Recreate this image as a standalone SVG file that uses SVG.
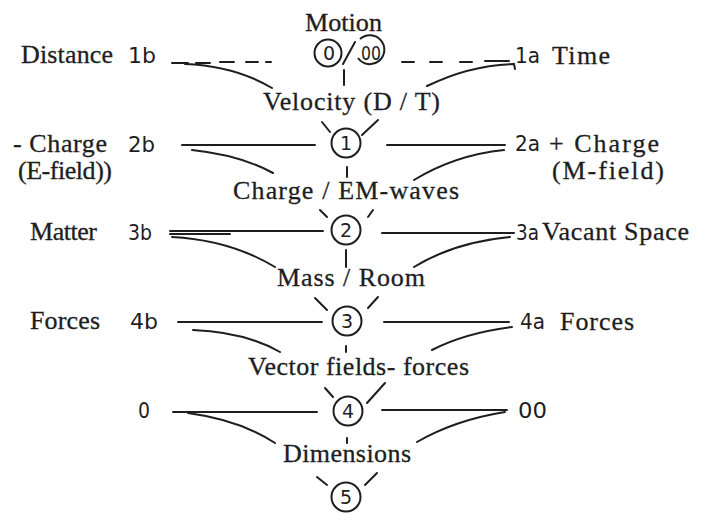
<svg xmlns="http://www.w3.org/2000/svg" width="704" height="513" viewBox="0 0 704 513">
<style>
.w{font-family:"Liberation Serif","Times New Roman",serif;font-size:26px;fill:#1e1e1e;stroke:#1e1e1e;stroke-width:0.3}
.s{font-family:"DejaVu Sans","Liberation Sans",sans-serif;font-size:21px;fill:#1e1e1e}
.n{font-family:"DejaVu Sans","Liberation Sans",sans-serif;font-size:19px;fill:#1e1e1e;text-anchor:middle}
.ln{stroke:#1e1e1e;stroke-width:2;fill:none;stroke-linecap:round}
.c{stroke:#1e1e1e;stroke-width:2;fill:none}
</style>
<rect width="704" height="513" fill="#ffffff"/>
<g id="connectors" class="ln">
  <path d="M172,63H188M196,63H210M220,62H234M246,62H258M266,62H271"/>
  <path d="M402,62H414M430,62H442M460,62H472M485,61H509"/>
  <path d="M185,64 Q235,66 272,88"/>
  <path d="M515,69 L514,64 Q470,65 427,86"/>
  <path d="M344,70V85"/>
  <path d="M182,145H315M387,145H505"/>
  <path d="M192,150 Q240,155 273,173"/>
  <path d="M504,150 Q455,155 414,180"/>
  <path d="M322,122L330,132M362,135L378,120"/>
  <path d="M347,167V177"/>
  <path d="M170,231H323M170,234H230M382,233H514"/>
  <path d="M172,237 Q230,240 275,267"/>
  <path d="M510,237 Q455,242 414,267"/>
  <path d="M320,210L327,217M368,217L373,210"/>
  <path d="M346,250V267"/>
  <path d="M178,322H322M384,322H509"/>
  <path d="M193,330 Q245,332 280,352"/>
  <path d="M512,327 Q465,333 432,350"/>
  <path d="M315,298L327,310M368,308L378,297"/>
  <path d="M346,346V352"/>
  <path d="M173,412H317M382,410H507"/>
  <path d="M188,413 Q240,420 275,443"/>
  <path d="M505,412 Q455,420 417,442"/>
  <path d="M325,388L333,397M367,403L385,383"/>
  <path d="M347,438V443"/>
  <path d="M317,477L327,485M365,485L377,473"/>
</g>
<g id="motion">
  <text class="w" x="305" y="31" textLength="77" lengthAdjust="spacingAndGlyphs">Motion</text>
  <circle class="c" cx="328" cy="53" r="13.5"/>
  <text class="n" x="329" y="60">0</text>
  <path class="ln" d="M343,64L355,42"/>
  <path class="c" d="M358,58 A14.5,14.5 0 1 0 360,39"/>
  <text class="n" x="371" y="60" textLength="20" lengthAdjust="spacingAndGlyphs">00</text>
</g>
<g id="n1b"><text class="w" x="21" y="63" textLength="92">Distance</text><text class="s" x="128" y="63" textLength="28" lengthAdjust="spacingAndGlyphs">1b</text></g>
<g id="n1a"><text class="s" x="515" y="63" textLength="25" lengthAdjust="spacingAndGlyphs">1a</text><text class="w" x="552" y="64" textLength="58">Time</text></g>
<g id="velocity"><text class="w" x="263" y="110" textLength="177">Velocity (D / T)</text></g>
<g id="c1"><circle class="c" cx="346" cy="143" r="14.5"/><text class="n" x="346" y="150">1</text></g>
<g id="n2b"><text class="w" x="13" y="152" textLength="94">- Charge</text><text class="s" x="128" y="152" textLength="27" lengthAdjust="spacingAndGlyphs">2b</text><text class="w" x="18" y="179" textLength="94">(E-field))</text></g>
<g id="n2a"><text class="s" x="515" y="151" textLength="25" lengthAdjust="spacingAndGlyphs">2a</text><text class="w" x="549" y="152" textLength="110">+ Charge</text><text class="w" x="552" y="179" textLength="112">(M-field)</text></g>
<g id="charge"><text class="w" x="233" y="199" textLength="226">Charge / EM-waves</text></g>
<g id="c2"><circle class="c" cx="346" cy="230" r="14.5"/><text class="n" x="346" y="237">2</text></g>
<g id="n3b"><text class="w" x="30" y="240" textLength="67">Matter</text><text class="s" x="128" y="240" textLength="24" lengthAdjust="spacingAndGlyphs">3b</text></g>
<g id="n3a"><text class="s" x="516" y="240" textLength="23" lengthAdjust="spacingAndGlyphs">3a</text><text class="w" x="542" y="240" textLength="147">Vacant Space</text></g>
<g id="mass"><text class="w" x="277" y="286" textLength="148">Mass / Room</text></g>
<g id="c3"><circle class="c" cx="347" cy="321" r="14.5"/><text class="n" x="347" y="328">3</text></g>
<g id="n4b"><text class="w" x="30" y="329" textLength="70">Forces</text><text class="s" x="130" y="329" textLength="28" lengthAdjust="spacingAndGlyphs">4b</text></g>
<g id="n4a"><text class="s" x="520" y="329" textLength="25" lengthAdjust="spacingAndGlyphs">4a</text><text class="w" x="560" y="330" textLength="74">Forces</text></g>
<g id="vector"><text class="w" x="248" y="375" textLength="221">Vector fields- forces</text></g>
<g id="c4"><circle class="c" cx="348" cy="411" r="14.5"/><text class="n" x="348" y="418">4</text></g>
<g id="n0"><text class="s" x="138" y="418" textLength="12" lengthAdjust="spacingAndGlyphs">0</text></g>
<g id="n00"><text class="s" x="518" y="418" textLength="29" lengthAdjust="spacingAndGlyphs">00</text></g>
<g id="dimensions"><text class="w" x="283" y="462" textLength="128">Dimensions</text></g>
<g id="c5"><circle class="c" cx="346" cy="497" r="14.5"/><text class="n" x="346" y="504">5</text></g>
</svg>
